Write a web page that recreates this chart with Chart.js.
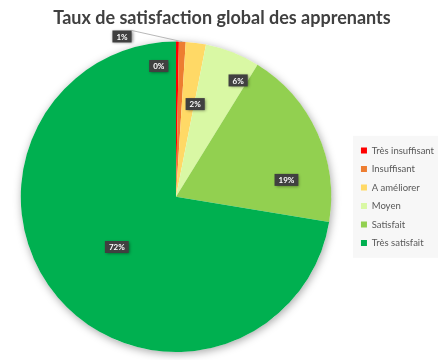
<!DOCTYPE html>
<html>
<head>
<meta charset="utf-8">
<script src="https://cdn.jsdelivr.net/npm/chart.js@4.4.0/dist/chart.umd.min.js"></script>
<style>
  html, body { margin: 0; padding: 0; background: #fff; }
  #wrap { width: 438px; height: 360px; }
</style>
</head>
<body>
<div id="wrap"><canvas id="myChart" width="438" height="360"></canvas></div>
<script>
const titleText = 'Taux de satisfaction global des apprenants'
const categories = ['Très insuffisant', 'Insuffisant', 'A améliorer', 'Moyen', 'Satisfait', 'Très satisfait']
const values = [0.3, 0.7, 2.1, 5.7, 18.8, 72.4]
const sliceColors = ['#FF0000', '#ED7D31', '#FFD966', '#D9F8A4', '#92D050', '#00B050']

// where each percent label sits: angle (deg, clockwise from top) and fraction of radius
const labelAngles = [-7.5, -18.6, 11.7, 28.1, 81.3, 229.7]
const labelRadius = [0.85, 1.09, 0.61, 0.85, 0.72, 0.5]

const total = values.reduce((a, b) => a + b, 0)

const pieShadow = {
    id: 'pieShadow',
    beforeDatasetsDraw(chart) {
        let arc = chart.getDatasetMeta(0).data[0]
        if (!arc) return
        let ctx = chart.ctx
        ctx.save()
        ctx.shadowColor = 'rgba(0,0,0,0.35)'
        ctx.shadowBlur = 9
        ctx.shadowOffsetX = 1
        ctx.shadowOffsetY = 2
        ctx.fillStyle = '#fff'
        ctx.beginPath()
        ctx.arc(arc.x, arc.y, arc.outerRadius, 0, Math.PI * 2)
        ctx.fill()
        ctx.restore()
    }
}

const legendBg = {
    id: 'legendBg',
    beforeDraw(chart) {
        let boxes = chart.legend && chart.legend.legendHitBoxes
        if (!boxes || !boxes.length) return
        let top = Math.min(...boxes.map(b => b.top))
        let bottom = Math.max(...boxes.map(b => b.top + b.height))
        let left = Math.min(...boxes.map(b => b.left))
        let ctx = chart.ctx
        ctx.save()
        ctx.fillStyle = '#f7f7f7'
        ctx.fillRect(left - 8, top - 10, chart.width - left + 8, bottom - top + 20)
        ctx.restore()
    }
}

const pctLabels = {
    id: 'pctLabels',
    afterDatasetsDraw(chart) {
        let meta = chart.getDatasetMeta(0)
        let ctx = chart.ctx
        ctx.save()
        ctx.font = 'bold 8px Lato'
        ctx.textAlign = 'center'
        ctx.textBaseline = 'middle'
        meta.data.forEach((arc, i) => {
            let a = labelAngles[i] * Math.PI / 180
            let r = arc.outerRadius * labelRadius[i]
            let x = arc.x + Math.sin(a) * r
            let y = arc.y - Math.cos(a) * r
            let text = Math.round(values[i] / total * 100) + '%'
            let w = ctx.measureText(text).width + 8
            let h = 12
            if (labelRadius[i] > 1) {
                // leader line back to the slice edge
                let mid = (arc.startAngle + arc.endAngle) / 2
                ctx.strokeStyle = '#a6a6a6'
                ctx.lineWidth = 0.8
                ctx.beginPath()
                ctx.moveTo(x + w / 2, y - h / 2)
                ctx.lineTo(arc.x + Math.cos(mid) * arc.outerRadius, arc.y + Math.sin(mid) * arc.outerRadius)
                ctx.stroke()
            }
            ctx.save()
            ctx.shadowColor = 'rgba(0,0,0,0.45)'
            ctx.shadowBlur = 3
            ctx.shadowOffsetX = 1
            ctx.shadowOffsetY = 1
            ctx.fillStyle = '#404040'
            ctx.fillRect(x - w / 2, y - h / 2, w, h)
            ctx.restore()
            ctx.fillStyle = '#ffffff'
            ctx.fillText(text, x, y + 0.5)
        })
        ctx.restore()
    }
}

new Chart(document.getElementById('myChart'), {
    type: 'pie',
    data: {
        labels: categories,
        datasets: [{
            data: values,
            backgroundColor: sliceColors,
            borderWidth: 0
        }]
    },
    options: {
        responsive: false,
        animation: false,
        layout: { padding: { top: 0, bottom: 8, left: 0, right: -6 } },
        plugins: {
            title: {
                display: true,
                text: titleText,
                color: '#404040',
                font: { family: 'Lato', size: 18, weight: 'bold' },
                padding: { top: 7, bottom: 13 }
            },
            legend: {
                position: 'right',
                fullSize: false,
                labels: {
                    boxWidth: 6,
                    boxHeight: 6,
                    padding: 9,
                    color: '#595959',
                    font: { family: 'Lato', size: 9.5 }
                }
            },
            tooltip: { enabled: false }
        }
    },
    plugins: [pieShadow, legendBg, pctLabels]
})
</script>
</body>
</html>
